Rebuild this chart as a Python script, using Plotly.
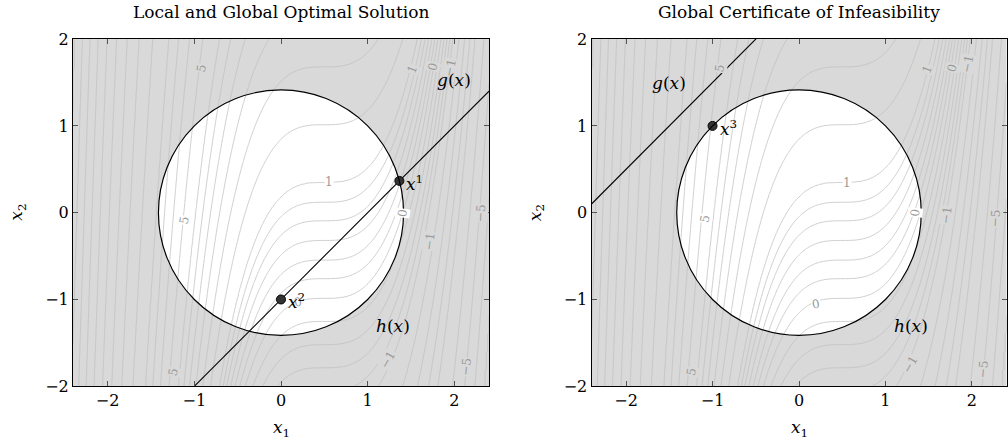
import numpy as np
import plotly.graph_objects as go

# Objective f(x) = -(x1 - a)^3 + b*x2 + c
obj_shift = 0.5
obj_x2_coef = 0.75
obj_offset = 0.74

# Contour levels of the objective
levels = [-7, -6, -5, -4, -3, -2.5, -2, -1.5, -1, -0.8, -0.6, -0.4, -0.2, 0,
          0.17, 0.33, 0.5, 0.67, 0.83, 1, 1.5, 2, 2.5, 3, 3.5, 4, 5, 6, 7, 8,
          10, 12, 14, 16, 18, 20, 22, 24, 26]

# Feasible disc h(x): x1^2 + x2^2 <= r^2
disc_radius = 2 ** 0.5

# Linear constraint g(x): x2 = slope*x1 + intercept, one per panel
g_slope = [1.0, 1.0]
g_intercept = [-1.0, 2.5]

# Marked solutions
left_pts_x = [1.366, 0.0]
left_pts_y = [0.366, -1.0]
left_pts_name = ["1", "2"]
right_pts_x = [-1.0]
right_pts_y = [1.0]
right_pts_name = ["3"]

titles = ["Local and Global Optimal Solution", "Global Certificate of Infeasibility"]
tick_vals = [-2, -1, 0, 1, 2]
x_range = [-2.4, 2.4]
y_range = [-2.0, 2.0]

# Contour labels (text, x1, x2, angle) per panel
left_labels = [("5", -0.92, 1.67, -80), ("5", -1.11, -0.09, -80), ("5", -1.24, -1.84, -80),
               ("1", 0.55, 0.35, 0), ("0", 1.40, 0.0, -82), ("0", 0.2, -1.03, -15),
               ("−1", 1.72, -0.33, -82), ("−5", 2.30, 0.0, -86),
               ("1", 1.52, 1.65, -70), ("0", 1.75, 1.68, -75), ("−1", 1.95, 1.67, -78),
               ("−1", 1.24, -1.69, -60), ("−5", 2.14, -1.77, -84)]
right_labels = [("5", -0.92, 1.67, -80), ("5", -1.09, -0.07, -80), ("5", -1.25, -1.83, -80),
                ("1", 0.55, 0.34, 0), ("0", 1.34, 0.0, -84), ("0", 0.2, -1.05, -10),
                ("−1", 1.71, -0.03, -82), ("−5", 2.27, -0.06, -86),
                ("1", 1.49, 1.65, -70), ("0", 1.77, 1.67, -75), ("−1", 1.96, 1.72, -78),
                ("−1", 1.28, -1.75, -60), ("−5", 2.13, -1.80, -84)]

BG_GRAY = "#d9d9d9"
LINE_GRAY = "#c2c2c2"
LABEL_GRAY = "#9a9a9a"
SERIF = "DejaVu Serif"

gx = np.linspace(x_range[0], x_range[1], 321)
gy = np.linspace(y_range[0], y_range[1], 267)
X1, X2 = np.meshgrid(gx, gy)
F = -(X1 - obj_shift) ** 3 + obj_x2_coef * X2 + obj_offset
# map level values onto integer indices so non-uniform levels become unit steps
padded = np.array([-1e4] + levels + [1e4])
Z = np.interp(F, padded, np.arange(len(padded)))

FIG_W, FIG_H = 1008, 444
ROW0, ROW_SCALE = 8.5, 0.954  # page row of the figure top, rows per figure pixel


def py(row):
    """paper y fraction for a page pixel row"""
    return 1 - ((row - ROW0) / ROW_SCALE) / FIG_H


fig = go.Figure()

x_domains = [[73 / FIG_W, 489 / FIG_W], [591.5 / FIG_W, 1006.5 / FIG_W]]
y_domain = [py(384.5), py(38.5)]

annotations = []
shapes = []
for k in range(2):
    xa = "x" if k == 0 else "x2"
    ya = "y" if k == 0 else "y2"
    fig.add_trace(go.Contour(
        x=gx, y=gy, z=Z, xaxis=xa, yaxis=ya,
        contours=dict(start=1, end=len(levels), size=1, coloring="none", showlabels=False),
        line=dict(color=LINE_GRAY, width=0.8), showscale=False, hoverinfo="skip"))

    # constraint line
    lx = np.array(x_range)
    ly = g_slope[k] * lx + g_intercept[k]
    fig.add_trace(go.Scatter(x=lx, y=ly, mode="lines", xaxis=xa, yaxis=ya,
                             line=dict(color="black", width=1.1), hoverinfo="skip"))

    # disc fill and outline
    shapes.append(dict(type="circle", xref=xa, yref=ya, x0=-disc_radius, x1=disc_radius,
                       y0=-disc_radius, y1=disc_radius, fillcolor="white",
                       line=dict(width=0), layer="below"))
    shapes.append(dict(type="circle", xref=xa, yref=ya, x0=-disc_radius, x1=disc_radius,
                       y0=-disc_radius, y1=disc_radius,
                       line=dict(color="black", width=1.2), layer="above"))

    labels = left_labels if k == 0 else right_labels
    for txt, lx_, ly_, ang in labels:
        inside = lx_ ** 2 + ly_ ** 2 < disc_radius ** 2
        annotations.append(dict(x=lx_, y=ly_, xref=xa, yref=ya, text=txt, showarrow=False,
                                textangle=ang, font=dict(family=SERIF, size=12, color=LABEL_GRAY),
                                bgcolor="white" if inside else BG_GRAY, borderpad=0))

    pts_x = left_pts_x if k == 0 else right_pts_x
    pts_y = left_pts_y if k == 0 else right_pts_y
    names = left_pts_name if k == 0 else right_pts_name
    fig.add_trace(go.Scatter(x=pts_x, y=pts_y, mode="markers", xaxis=xa, yaxis=ya,
                             marker=dict(size=9, color="#333333", line=dict(color="black", width=1)),
                             hoverinfo="skip"))
    for nx, ny, nm in zip(pts_x, pts_y, names):
        annotations.append(dict(x=nx, y=ny, xref=xa, yref=ya, text="<i>x</i><sup>" + nm + "</sup>",
                                showarrow=False, xanchor="left", yanchor="middle", xshift=5, yshift=-2,
                                font=dict(family=SERIF, size=17, color="black")))

    # constraint names
    gpos = (2.0, 1.53) if k == 0 else (-1.5, 1.5)
    annotations.append(dict(x=gpos[0], y=gpos[1], xref=xa, yref=ya, text="<i>g</i>(<i>x</i>)",
                            showarrow=False, font=dict(family=SERIF, size=17, color="black")))
    annotations.append(dict(x=1.29, y=-1.30, xref=xa, yref=ya, text="<i>h</i>(<i>x</i>)",
                            showarrow=False, font=dict(family=SERIF, size=17, color="black")))

    cx = (x_domains[k][0] + x_domains[k][1]) / 2
    annotations.append(dict(x=cx, y=py(11), xref="paper", yref="paper", text=titles[k],
                            xanchor="center", yanchor="middle", showarrow=False,
                            font=dict(family=SERIF, size=17, color="black")))
    annotations.append(dict(x=cx, y=py(427), xref="paper", yref="paper",
                            xanchor="center", yanchor="middle",
                            text="<i>x</i><sub>1</sub>", showarrow=False,
                            font=dict(family=SERIF, size=17, color="black")))
    annotations.append(dict(x=(x_domains[k][0] * FIG_W - 55) / FIG_W, y=(y_domain[0] + y_domain[1]) / 2,
                            xref="paper", yref="paper", text="<i>x</i><sub>2</sub>", showarrow=False,
                            xanchor="center", yanchor="middle",
                            textangle=-90, font=dict(family=SERIF, size=17, color="black")))

axis_common = dict(showline=True, linecolor="black", linewidth=1, mirror="ticks", ticks="inside",
                   ticklen=5, tickcolor="#555555", showgrid=False, zeroline=False,
                   tickfont=dict(family=SERIF, size=16, color="black"), tickvals=tick_vals)

fig.update_layout(
    width=FIG_W, height=FIG_H, margin=dict(l=0, r=0, t=0, b=0),
    paper_bgcolor="white", plot_bgcolor=BG_GRAY, showlegend=False,
    xaxis=dict(domain=x_domains[0], range=x_range, anchor="y", **axis_common),
    yaxis=dict(domain=y_domain, range=y_range, anchor="x", **axis_common),
    xaxis2=dict(domain=x_domains[1], range=x_range, anchor="y2", **axis_common),
    yaxis2=dict(domain=y_domain, range=y_range, anchor="x2", **axis_common),
    shapes=shapes, annotations=annotations,
)

fig.write_html("out.html")
